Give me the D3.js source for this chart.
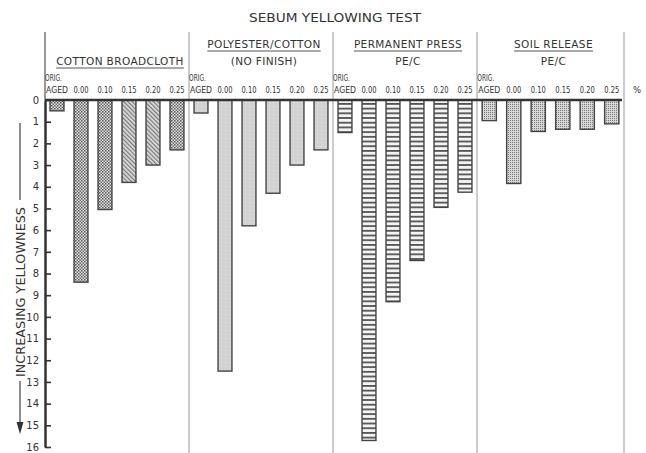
<!DOCTYPE html>
<html>
<head>
<meta charset="utf-8">
<script src="https://cdn.jsdelivr.net/npm/d3@7"></script>
<style>
  body { margin: 0; background: #fff; }
  text { font-family: "DejaVu Sans", "Liberation Sans", sans-serif; fill: #333; }
</style>
</head>
<body>
<div id="chart"></div>
<script>
// Sebum yellowing test — yellowness by fabric and finish level
const categories = ["ORIG. AGED", "0.00", "0.10", "0.15", "0.20", "0.25"];
const cotton = [0.5, 8.4, 5.05, 3.8, 3.0, 2.3];
const polyester = [0.6, 12.5, 5.8, 4.3, 3.0, 2.3];
const permPress = [1.5, 15.7, 9.3, 7.4, 4.95, 4.25];
const soilRelease = [0.95, 3.85, 1.45, 1.35, 1.35, 1.1];
const yTicks = d3.range(0, 17);

const panels = [
  { title: ["COTTON BROADCLOTH"], values: cotton, fills: ["check", "check", "check", "hatch", "hatch", "check"] },
  { title: ["POLYESTER/COTTON", "(NO FINISH)"], values: polyester, fills: ["gray", "gray", "gray", "gray", "gray", "gray"] },
  { title: ["PERMANENT PRESS", "PE/C"], values: permPress, fills: ["ladder", "ladder", "ladder", "ladder", "ladder", "ladder"] },
  { title: ["SOIL RELEASE", "PE/C"], values: soilRelease, fills: ["dots", "dots", "dots", "dots", "dots", "dots"] }
];

const width = 646, height = 453;
const edges = [45, 189, 333, 477, 624];
const y0 = 100;
const y = d3.scaleLinear().domain([0, 16]).range([y0, 447]);

const svg = d3.select("#chart").append("svg")
    .attr("width", width)
    .attr("height", height);

// patterns
const defs = svg.append("defs");
const check = defs.append("pattern").attr("id", "check")
    .attr("patternUnits", "userSpaceOnUse").attr("width", 3).attr("height", 3);
check.append("rect").attr("width", 3).attr("height", 3).attr("fill", "#e6e6e6");
check.append("rect").attr("width", 1.5).attr("height", 1.5).attr("fill", "#555");
check.append("rect").attr("x", 1.5).attr("y", 1.5).attr("width", 1.5).attr("height", 1.5).attr("fill", "#666");

const hatch = defs.append("pattern").attr("id", "hatch")
    .attr("patternUnits", "userSpaceOnUse").attr("width", 3).attr("height", 3)
    .attr("patternTransform", "rotate(-45)");
hatch.append("rect").attr("width", 3).attr("height", 3).attr("fill", "#ddd");
hatch.append("rect").attr("width", 1.2).attr("height", 3).attr("fill", "#777");

const gray = defs.append("pattern").attr("id", "gray")
    .attr("patternUnits", "userSpaceOnUse").attr("width", 4).attr("height", 4);
gray.append("rect").attr("width", 4).attr("height", 4).attr("fill", "#d2d2d2");
gray.append("rect").attr("x", 1).attr("y", 2).attr("width", 1).attr("height", 1).attr("fill", "#e8e8e8");

const ladder = defs.append("pattern").attr("id", "ladder")
    .attr("patternUnits", "userSpaceOnUse").attr("y", y0 + 3).attr("width", 10).attr("height", 4.7);
ladder.append("rect").attr("width", 10).attr("height", 4.7).attr("fill", "#f4f4f4");
ladder.append("rect").attr("width", 10).attr("height", 1.8).attr("fill", "#555");

const dots = defs.append("pattern").attr("id", "dots")
    .attr("patternUnits", "userSpaceOnUse").attr("width", 2).attr("height", 2);
dots.append("rect").attr("width", 2).attr("height", 2).attr("fill", "#d8d8d8");
dots.append("rect").attr("width", 1).attr("height", 1).attr("fill", "#777");

// title
svg.append("text")
    .attr("x", 335).attr("y", 22)
    .attr("text-anchor", "middle")
    .attr("font-size", 13)
    .attr("textLength", 172)
    .attr("lengthAdjust", "spacingAndGlyphs")
    .text("SEBUM YELLOWING TEST");

// panel dividers
svg.append("g").selectAll("line")
    .data(edges.slice(1))
    .join("line")
      .attr("x1", d => d).attr("x2", d => d)
      .attr("y1", 32).attr("y2", height)
      .attr("stroke", "#999").attr("stroke-width", 1);
svg.append("line")
    .attr("x1", 45).attr("x2", 45).attr("y1", 32).attr("y2", y0)
    .attr("stroke", "#555").attr("stroke-width", 1.2);

panels.forEach((p, i) => {
  const x = d3.scaleBand()
      .domain(categories)
      .range([edges[i], edges[i + 1]])
      .paddingInner(0.42)
      .paddingOuter(0.21);
  const cx = (edges[i] + edges[i + 1]) / 2 + 3;
  const g = svg.append("g");

  // panel title (underlined first line)
  const lineY = p.title.length === 1 ? [61] : [44, 61];
  p.title.forEach((t, j) => {
    const txt = g.append("text")
        .attr("x", cx).attr("y", lineY[j] + 4)
        .attr("text-anchor", "middle")
        .attr("font-size", 10.5)
        .attr("letter-spacing", 0.4)
        .text(t);
    if (j === 0) {
      const bb = txt.node().getBBox();
      g.append("line")
          .attr("x1", bb.x).attr("x2", bb.x + bb.width)
          .attr("y1", lineY[j] + 7).attr("y2", lineY[j] + 7)
          .attr("stroke", "#555").attr("stroke-width", 1);
    }
  });

  // category labels
  categories.forEach(c => {
    const bx = x(c) + x.bandwidth() / 2;
    if (c === "ORIG. AGED") {
      g.append("text").attr("x", bx - 12).attr("y", 81)
          .attr("font-size", 8).attr("textLength", 17).attr("lengthAdjust", "spacingAndGlyphs")
          .text("ORIG.");
      g.append("text").attr("x", bx).attr("y", 93)
          .attr("text-anchor", "middle")
          .attr("font-size", 8.5).attr("textLength", 22).attr("lengthAdjust", "spacingAndGlyphs")
          .text("AGED");
    } else {
      g.append("text").attr("x", bx).attr("y", 93)
          .attr("text-anchor", "middle")
          .attr("font-size", 8.5).attr("textLength", 15).attr("lengthAdjust", "spacingAndGlyphs")
          .text(c);
    }
  });

  // bars
  g.selectAll("rect")
    .data(p.values)
    .join("rect")
      .attr("x", (d, k) => x(categories[k]))
      .attr("y", y(0))
      .attr("width", x.bandwidth())
      .attr("height", d => y(d) - y(0))
      .attr("fill", (d, k) => `url(#${p.fills[k]})`)
      .attr("stroke", "#444")
      .attr("stroke-width", 1.4);
});

// top baseline
svg.append("line")
    .attr("x1", 45).attr("x2", 622)
    .attr("y1", y0).attr("y2", y0)
    .attr("stroke", "#333").attr("stroke-width", 2.5);

svg.append("text")
    .attr("x", 637).attr("y", 93)
    .attr("text-anchor", "middle")
    .attr("font-size", 8.5)
    .text("%");

// y axis
const yAxis = svg.append("g")
    .attr("transform", "translate(45,0)")
    .call(d3.axisLeft(y).tickValues(yTicks).tickSizeInner(-6).tickSizeOuter(0).tickPadding(6));
yAxis.select(".domain").attr("stroke", "#333").attr("stroke-width", 2.5);
yAxis.selectAll(".tick line").attr("stroke", "#333").attr("stroke-width", 1.6);
yAxis.selectAll(".tick text")
    .attr("font-size", 10)
    .attr("fill", "#444")
    .style("font-family", "\"DejaVu Sans\", sans-serif");

// y axis label with arrow
svg.append("text")
    .attr("transform", "translate(25,292) rotate(-90)")
    .attr("text-anchor", "middle")
    .attr("font-size", 11.5)
    .attr("textLength", 170)
    .attr("lengthAdjust", "spacingAndGlyphs")
    .text("INCREASING  YELLOWNESS");
svg.append("line")
    .attr("x1", 20).attr("x2", 20).attr("y1", 123).attr("y2", 200)
    .attr("stroke", "#444").attr("stroke-width", 1.2);
svg.append("line")
    .attr("x1", 20).attr("x2", 20).attr("y1", 381).attr("y2", 424)
    .attr("stroke", "#444").attr("stroke-width", 1.2);
svg.append("path")
    .attr("d", "M16.5,422 L23.5,422 L20,434 Z")
    .attr("fill", "#333");
</script>
</body>
</html>
